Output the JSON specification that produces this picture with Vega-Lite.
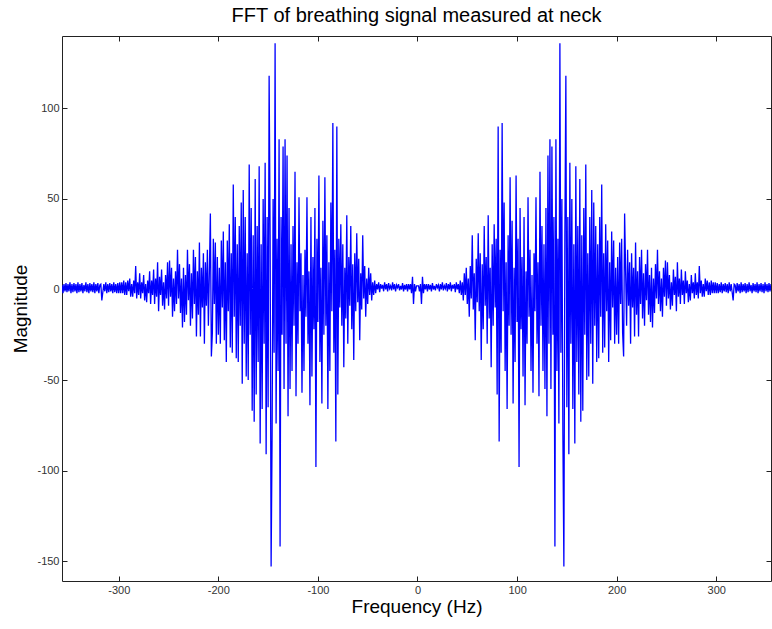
{
"$schema": "https://vega.github.io/schema/vega-lite/v6.json",
"width": 709,
"height": 545,
"autosize": {"type": "none"},
"padding": {"left": 62, "top": 36, "right": 1, "bottom": 48},
"background": "white",
"config": {"view": {"stroke": null}, "font": "Liberation Sans"},
"title": {"text": "FFT of breathing signal measured at neck", "fontSize": 20, "fontWeight": "normal", "color": "#000000", "font": "Liberation Sans", "anchor": "middle", "offset": 10},
"data": {"values": [
{"f":-357,"m":2.5},{"f":-356,"m":-2},{"f":-355,"m":3},{"f":-354,"m":-1},{"f":-353,"m":3.5},{"f":-352,"m":-1.5},{"f":-351,"m":3},{"f":-350,"m":-1},{"f":-349,"m":4},{"f":-348,"m":-2},
{"f":-347,"m":3},{"f":-346,"m":-1.5},{"f":-345,"m":3.5},{"f":-344,"m":-1},{"f":-343,"m":3},{"f":-342,"m":-2},{"f":-341,"m":4},
{"f":-340,"m":-1.5},{"f":-339,"m":3},{"f":-338,"m":-1},{"f":-337,"m":3.5},{"f":-336,"m":-2},{"f":-335,"m":2.5},{"f":-334,"m":-1},{"f":-333,"m":4},{"f":-332,"m":-1.5},{"f":-331,"m":3},
{"f":-330,"m":-2},{"f":-329,"m":3.5},{"f":-328,"m":-1},{"f":-327,"m":3},{"f":-326,"m":-1.5},{"f":-325,"m":4},{"f":-324,"m":-2},{"f":-323,"m":3},{"f":-322,"m":-1},{"f":-321,"m":3.5},
{"f":-320,"m":-2},{"f":-319,"m":2.5},{"f":-318,"m":3},{"f":-317,"m":-6},{"f":-316,"m":-1.5},{"f":-315,"m":3},{"f":-314,"m":-1},{"f":-313,"m":4},{"f":-312,"m":-2},{"f":-311,"m":3},
{"f":-310,"m":-1.5},{"f":-309,"m":3.5},{"f":-308,"m":-1},{"f":-307,"m":3},{"f":-306,"m":-2},{"f":-305,"m":4},{"f":-304,"m":-1.5},{"f":-303,"m":3},{"f":-302,"m":-2},{"f":-301,"m":3.5},
{"f":-300,"m":-2},{"f":-299,"m":4},{"f":-298,"m":-2},{"f":-297,"m":4},{"f":-296,"m":-2},{"f":-295,"m":5},{"f":-294,"m":-3},{"f":-293,"m":4},{"f":-292,"m":-3},{"f":-291,"m":5},
{"f":-290,"m":-1},{"f":-289,"m":6},{"f":-288,"m":-4},{"f":-287,"m":3},{"f":-286,"m":-4},{"f":-285,"m":5},{"f":-284,"m":-2},{"f":-283,"m":13},{"f":-282,"m":-5},{"f":-281,"m":4},
{"f":-280,"m":-3},{"f":-279,"m":9},{"f":-278,"m":-5},{"f":-277,"m":4},{"f":-276,"m":-2},{"f":-275,"m":8},{"f":-274,"m":-6},{"f":-273,"m":3},{"f":-272,"m":-7},{"f":-271,"m":5},
{"f":-270,"m":-2},{"f":-269,"m":10},{"f":-268,"m":-8},{"f":-267,"m":5},{"f":-266,"m":-3},{"f":-265,"m":11},{"f":-264,"m":-8},{"f":-263,"m":6},{"f":-262,"m":-4},{"f":-261,"m":15},
{"f":-260,"m":-12},{"f":-259,"m":7},{"f":-258,"m":-3},{"f":-257,"m":11},{"f":-256,"m":-9},{"f":-255,"m":4},{"f":-254,"m":-11},{"f":-253,"m":8},{"f":-252,"m":-5},{"f":-251,"m":15},
{"f":-250,"m":-9},{"f":-249,"m":16},{"f":-248,"m":-4},{"f":-247,"m":12},{"f":-246,"m":-15},{"f":-245,"m":6},{"f":-244,"m":-12},{"f":-243,"m":10},{"f":-242,"m":-8},{"f":-241,"m":22},
{"f":-240,"m":-5},{"f":-239,"m":14},{"f":-238,"m":-13},{"f":-237,"m":6},{"f":-236,"m":-21},{"f":-235,"m":12},{"f":-234,"m":-18},{"f":-233,"m":8},{"f":-232,"m":-14},{"f":-231,"m":22},
{"f":-230,"m":-6},{"f":-229,"m":14},{"f":-228,"m":-20},{"f":-227,"m":9},{"f":-226,"m":-16},{"f":-225,"m":22},{"f":-224,"m":-8},{"f":-223,"m":18},{"f":-222,"m":-26},{"f":-221,"m":10},
{"f":-220,"m":-14},{"f":-219,"m":26},{"f":-218,"m":-26},{"f":-217,"m":12},{"f":-216,"m":-10},{"f":-215,"m":20},{"f":-214,"m":-30},{"f":-213,"m":15},{"f":-212,"m":-9},{"f":-211,"m":22},
{"f":-210,"m":-20},{"f":-209,"m":10},{"f":-208,"m":42},{"f":-207,"m":-37},{"f":-206,"m":-24},{"f":-205,"m":28},{"f":-204,"m":-8},{"f":-203,"m":26},{"f":-202,"m":-30},{"f":-201,"m":18},
{"f":-200,"m":-25},{"f":-199,"m":12},{"f":-198,"m":-30},{"f":-197,"m":27},{"f":-196,"m":-10},{"f":-195,"m":32},{"f":-194,"m":-28},{"f":-193,"m":15},{"f":-192,"m":-40},{"f":-191,"m":27},
{"f":-190,"m":-12},{"f":-189,"m":36},{"f":-188,"m":-32},{"f":-187,"m":20},{"f":-186,"m":-35},{"f":-185,"m":58},{"f":-184,"m":-15},{"f":-183,"m":40},{"f":-182,"m":-38},{"f":-181,"m":25},
{"f":-180,"m":-40},{"f":-179,"m":35},{"f":-178,"m":-20},{"f":-177,"m":48},{"f":-176,"m":-52},{"f":-175,"m":55},{"f":-174,"m":-30},{"f":-173,"m":40},{"f":-172,"m":-48},{"f":-171,"m":20},
{"f":-170,"m":-50},{"f":-169,"m":69},{"f":-168,"m":-25},{"f":-167,"m":45},{"f":-166,"m":-67},{"f":-165,"m":30},{"f":-164,"m":-73},{"f":-163,"m":61},{"f":-162,"m":-58},{"f":-161,"m":35},
{"f":-160,"m":-40},{"f":-159,"m":68},{"f":-158,"m":-85},{"f":-157,"m":25},{"f":-156,"m":-66},{"f":-155,"m":50},{"f":-154,"m":-30},{"f":-153,"m":70},{"f":-152,"m":-91},{"f":-151,"m":40},
{"f":-150,"m":-65},{"f":-149,"m":118},{"f":-148,"m":30},{"f":-147,"m":-153},{"f":-146,"m":-80},{"f":-145,"m":50},{"f":-144,"m":-35},{"f":-143,"m":136},{"f":-142,"m":-74},{"f":-141,"m":28},
{"f":-140,"m":-45},{"f":-139,"m":83},{"f":-138,"m":-142},{"f":-137,"m":40},{"f":-136,"m":-25},{"f":-135,"m":79},{"f":-134,"m":-55},{"f":-133,"m":83},{"f":-132,"m":-30},{"f":-131,"m":74},
{"f":-130,"m":-70},{"f":-129,"m":45},{"f":-128,"m":-55},{"f":-127,"m":25},{"f":-126,"m":-45},{"f":-125,"m":35},{"f":-124,"m":-20},{"f":-123,"m":65},{"f":-122,"m":-59},{"f":-121,"m":15},
{"f":-120,"m":-30},{"f":-119,"m":51},{"f":-118,"m":-12},{"f":-117,"m":20},{"f":-116,"m":-57},{"f":-115,"m":8},{"f":-114,"m":-45},{"f":-113,"m":22},{"f":-112,"m":-15},{"f":-111,"m":51},
{"f":-110,"m":-30},{"f":-109,"m":10},{"f":-108,"m":-64},{"f":-107,"m":40},{"f":-106,"m":-48},{"f":-105,"m":18},{"f":-104,"m":-22},{"f":-103,"m":45},{"f":-102,"m":-98},{"f":-101,"m":28},
{"f":-100,"m":-18},{"f":-99,"m":63},{"f":-98,"m":-40},{"f":-97,"m":12},{"f":-96,"m":-63},{"f":-95,"m":38},{"f":-94,"m":-25},{"f":-93,"m":62},{"f":-92,"m":-20},{"f":-91,"m":30},
{"f":-90,"m":-66},{"f":-89,"m":15},{"f":-88,"m":-45},{"f":-87,"m":48},{"f":-86,"m":-12},{"f":-85,"m":92},{"f":-84,"m":-35},{"f":-83,"m":22},{"f":-82,"m":-84},{"f":-81,"m":90},
{"f":-80,"m":-58},{"f":-79,"m":28},{"f":-78,"m":-10},{"f":-77,"m":36},{"f":-76,"m":-20},{"f":-75,"m":25},{"f":-74,"m":-43},{"f":-73,"m":12},{"f":-72,"m":-16},{"f":-71,"m":41},
{"f":-70,"m":-30},{"f":-69,"m":18},{"f":-68,"m":-9},{"f":-67,"m":35},{"f":-66,"m":-22},{"f":-65,"m":14},{"f":-64,"m":-39},{"f":-63,"m":20},{"f":-62,"m":-12},{"f":-61,"m":31},
{"f":-60,"m":-7},{"f":-59,"m":17},{"f":-58,"m":-28},{"f":-57,"m":9},{"f":-56,"m":-11},{"f":-55,"m":30},{"f":-54,"m":-5},{"f":-53,"m":13},{"f":-52,"m":-15},{"f":-51,"m":6},
{"f":-50,"m":-8},{"f":-49,"m":12},{"f":-48,"m":-3},{"f":-47,"m":9},{"f":-46,"m":-6},{"f":-45,"m":4},{"f":-44,"m":-3},{"f":-43,"m":5},{"f":-42,"m":-2},{"f":-41,"m":3},
{"f":-40,"m":0},{"f":-39,"m":4},{"f":-38,"m":-1.5},{"f":-37,"m":3},{"f":-36,"m":0.5},{"f":-35,"m":2.5},{"f":-34,"m":-1},{"f":-33,"m":4},{"f":-32,"m":0},{"f":-31,"m":3},
{"f":-30,"m":-1},{"f":-29,"m":3.5},{"f":-28,"m":0.5},{"f":-27,"m":2},{"f":-26,"m":-0.5},{"f":-25,"m":4},{"f":-24,"m":0},{"f":-23,"m":3},{"f":-22,"m":-1},{"f":-21,"m":2.5},
{"f":-20,"m":1},{"f":-19,"m":3},{"f":-18,"m":-0.5},{"f":-17,"m":2},{"f":-16,"m":0},{"f":-15,"m":3.5},{"f":-14,"m":-1},{"f":-13,"m":2.5},{"f":-12,"m":0},{"f":-11,"m":3},
{"f":-10,"m":-1},{"f":-9,"m":3},{"f":-8,"m":0},{"f":-7,"m":3},{"f":-6,"m":-2},{"f":-5,"m":7},{"f":-4,"m":-8},{"f":-3,"m":3},{"f":-2,"m":-1},{"f":-1,"m":2},
{"f":0,"m":2},
{"f":1,"m":2},{"f":2,"m":-1},{"f":3,"m":3},{"f":4,"m":-8},{"f":5,"m":7},{"f":6,"m":-2},{"f":7,"m":3},{"f":8,"m":0},{"f":9,"m":3},{"f":10,"m":-1},
{"f":11,"m":3},{"f":12,"m":0},{"f":13,"m":2.5},{"f":14,"m":-1},{"f":15,"m":3.5},{"f":16,"m":0},{"f":17,"m":2},{"f":18,"m":-0.5},{"f":19,"m":3},{"f":20,"m":1},
{"f":21,"m":2.5},{"f":22,"m":-1},{"f":23,"m":3},{"f":24,"m":0},{"f":25,"m":4},{"f":26,"m":-0.5},{"f":27,"m":2},{"f":28,"m":0.5},{"f":29,"m":3.5},{"f":30,"m":-1},
{"f":31,"m":3},{"f":32,"m":0},{"f":33,"m":4},{"f":34,"m":-1},{"f":35,"m":2.5},{"f":36,"m":0.5},{"f":37,"m":3},{"f":38,"m":-1.5},{"f":39,"m":4},{"f":40,"m":0},
{"f":41,"m":3},{"f":42,"m":-2},{"f":43,"m":5},{"f":44,"m":-3},{"f":45,"m":4},{"f":46,"m":-6},{"f":47,"m":9},{"f":48,"m":-3},{"f":49,"m":12},{"f":50,"m":-8},
{"f":51,"m":6},{"f":52,"m":-15},{"f":53,"m":13},{"f":54,"m":-5},{"f":55,"m":30},{"f":56,"m":-11},{"f":57,"m":9},{"f":58,"m":-28},{"f":59,"m":17},{"f":60,"m":-7},
{"f":61,"m":31},{"f":62,"m":-12},{"f":63,"m":20},{"f":64,"m":-39},{"f":65,"m":14},{"f":66,"m":-22},{"f":67,"m":35},{"f":68,"m":-9},{"f":69,"m":18},{"f":70,"m":-30},
{"f":71,"m":41},{"f":72,"m":-16},{"f":73,"m":12},{"f":74,"m":-43},{"f":75,"m":25},{"f":76,"m":-20},{"f":77,"m":36},{"f":78,"m":-10},{"f":79,"m":28},{"f":80,"m":-58},
{"f":81,"m":90},{"f":82,"m":-84},{"f":83,"m":22},{"f":84,"m":-35},{"f":85,"m":92},{"f":86,"m":-12},{"f":87,"m":48},{"f":88,"m":-45},{"f":89,"m":15},{"f":90,"m":-66},
{"f":91,"m":30},{"f":92,"m":-20},{"f":93,"m":62},{"f":94,"m":-25},{"f":95,"m":38},{"f":96,"m":-63},{"f":97,"m":12},{"f":98,"m":-40},{"f":99,"m":63},{"f":100,"m":-18},
{"f":101,"m":28},{"f":102,"m":-98},{"f":103,"m":45},{"f":104,"m":-22},{"f":105,"m":18},{"f":106,"m":-48},{"f":107,"m":40},{"f":108,"m":-64},{"f":109,"m":10},{"f":110,"m":-30},
{"f":111,"m":51},{"f":112,"m":-15},{"f":113,"m":22},{"f":114,"m":-45},{"f":115,"m":8},{"f":116,"m":-57},{"f":117,"m":20},{"f":118,"m":-12},{"f":119,"m":51},{"f":120,"m":-30},
{"f":121,"m":15},{"f":122,"m":-59},{"f":123,"m":65},{"f":124,"m":-20},{"f":125,"m":35},{"f":126,"m":-45},{"f":127,"m":25},{"f":128,"m":-55},{"f":129,"m":45},{"f":130,"m":-70},
{"f":131,"m":74},{"f":132,"m":-30},{"f":133,"m":83},{"f":134,"m":-55},{"f":135,"m":79},{"f":136,"m":-25},{"f":137,"m":40},{"f":138,"m":-142},{"f":139,"m":83},{"f":140,"m":-45},
{"f":141,"m":28},{"f":142,"m":-74},{"f":143,"m":136},{"f":144,"m":-35},{"f":145,"m":50},{"f":146,"m":-80},{"f":147,"m":-153},{"f":148,"m":30},{"f":149,"m":118},{"f":150,"m":-65},
{"f":151,"m":40},{"f":152,"m":-91},{"f":153,"m":70},{"f":154,"m":-30},{"f":155,"m":50},{"f":156,"m":-66},{"f":157,"m":25},{"f":158,"m":-85},{"f":159,"m":68},{"f":160,"m":-40},
{"f":161,"m":35},{"f":162,"m":-58},{"f":163,"m":61},{"f":164,"m":-73},{"f":165,"m":30},{"f":166,"m":-67},{"f":167,"m":45},{"f":168,"m":-25},{"f":169,"m":69},{"f":170,"m":-50},
{"f":171,"m":20},{"f":172,"m":-48},{"f":173,"m":40},{"f":174,"m":-30},{"f":175,"m":55},{"f":176,"m":-52},{"f":177,"m":48},{"f":178,"m":-20},{"f":179,"m":35},{"f":180,"m":-40},
{"f":181,"m":25},{"f":182,"m":-38},{"f":183,"m":40},{"f":184,"m":-15},{"f":185,"m":58},{"f":186,"m":-35},{"f":187,"m":20},{"f":188,"m":-32},{"f":189,"m":36},{"f":190,"m":-12},
{"f":191,"m":27},{"f":192,"m":-40},{"f":193,"m":15},{"f":194,"m":-28},{"f":195,"m":32},{"f":196,"m":-10},{"f":197,"m":27},{"f":198,"m":-30},{"f":199,"m":12},{"f":200,"m":-25},
{"f":201,"m":18},{"f":202,"m":-30},{"f":203,"m":26},{"f":204,"m":-8},{"f":205,"m":28},{"f":206,"m":-24},{"f":207,"m":-37},{"f":208,"m":42},{"f":209,"m":10},{"f":210,"m":-20},
{"f":211,"m":22},{"f":212,"m":-9},{"f":213,"m":15},{"f":214,"m":-30},{"f":215,"m":20},{"f":216,"m":-10},{"f":217,"m":12},{"f":218,"m":-26},{"f":219,"m":26},{"f":220,"m":-14},
{"f":221,"m":10},{"f":222,"m":-26},{"f":223,"m":18},{"f":224,"m":-8},{"f":225,"m":22},{"f":226,"m":-16},{"f":227,"m":9},{"f":228,"m":-20},{"f":229,"m":14},{"f":230,"m":-6},
{"f":231,"m":22},{"f":232,"m":-14},{"f":233,"m":8},{"f":234,"m":-18},{"f":235,"m":12},{"f":236,"m":-21},{"f":237,"m":6},{"f":238,"m":-13},{"f":239,"m":14},{"f":240,"m":-5},
{"f":241,"m":22},{"f":242,"m":-8},{"f":243,"m":10},{"f":244,"m":-12},{"f":245,"m":6},{"f":246,"m":-15},{"f":247,"m":12},{"f":248,"m":-4},{"f":249,"m":16},{"f":250,"m":-9},
{"f":251,"m":15},{"f":252,"m":-5},{"f":253,"m":8},{"f":254,"m":-11},{"f":255,"m":4},{"f":256,"m":-9},{"f":257,"m":11},{"f":258,"m":-3},{"f":259,"m":7},{"f":260,"m":-12},
{"f":261,"m":15},{"f":262,"m":-4},{"f":263,"m":6},{"f":264,"m":-8},{"f":265,"m":11},{"f":266,"m":-3},{"f":267,"m":5},{"f":268,"m":-8},{"f":269,"m":10},{"f":270,"m":-2},
{"f":271,"m":5},{"f":272,"m":-7},{"f":273,"m":3},{"f":274,"m":-6},{"f":275,"m":8},{"f":276,"m":-2},{"f":277,"m":4},{"f":278,"m":-5},{"f":279,"m":9},{"f":280,"m":-3},
{"f":281,"m":4},{"f":282,"m":-5},{"f":283,"m":13},{"f":284,"m":-2},{"f":285,"m":5},{"f":286,"m":-4},{"f":287,"m":3},{"f":288,"m":-4},{"f":289,"m":6},{"f":290,"m":-1},
{"f":291,"m":5},{"f":292,"m":-3},{"f":293,"m":4},{"f":294,"m":-3},{"f":295,"m":5},{"f":296,"m":-2},{"f":297,"m":4},{"f":298,"m":-2},{"f":299,"m":4},{"f":300,"m":-2},
{"f":301,"m":3.5},{"f":302,"m":-2},{"f":303,"m":3},{"f":304,"m":-1.5},{"f":305,"m":4},{"f":306,"m":-2},{"f":307,"m":3},{"f":308,"m":-1},{"f":309,"m":3.5},{"f":310,"m":-1.5},
{"f":311,"m":3},{"f":312,"m":-2},{"f":313,"m":4},{"f":314,"m":-1},{"f":315,"m":3},{"f":316,"m":-1.5},{"f":317,"m":-6},{"f":318,"m":3},{"f":319,"m":2.5},{"f":320,"m":-2},
{"f":321,"m":3.5},{"f":322,"m":-1},{"f":323,"m":3},{"f":324,"m":-2},{"f":325,"m":4},{"f":326,"m":-1.5},{"f":327,"m":3},{"f":328,"m":-1},{"f":329,"m":3.5},{"f":330,"m":-2},
{"f":331,"m":3},{"f":332,"m":-1.5},{"f":333,"m":4},{"f":334,"m":-1},{"f":335,"m":2.5},{"f":336,"m":-2},{"f":337,"m":3.5},{"f":338,"m":-1},{"f":339,"m":3},{"f":340,"m":-1.5},
{"f":341,"m":4},{"f":342,"m":-2},{"f":343,"m":3},{"f":344,"m":-1},{"f":345,"m":3.5},{"f":346,"m":-1.5},{"f":347,"m":3},{"f":348,"m":-2},{"f":349,"m":4},{"f":350,"m":-1},
{"f":351,"m":3},{"f":352,"m":-1.5},{"f":353,"m":3.5},{"f":354,"m":-1},{"f":355,"m":3}
]},
"layer": [
{
"mark": {"type": "line", "color": "#0000ff", "strokeWidth": 1.3, "clip": true},
"encoding": {
"x": {"field": "f", "type": "quantitative", "scale": {"domain": [-357, 355], "nice": false, "zero": false},
 "axis": {"orient": "bottom", "values": [-300, -200, -100, 0, 100, 200, 300], "labelExpr": "'' + datum.value", "grid": false, "domainColor": "#222222", "tickColor": "#222222", "tickSize": -5, "labelPadding": 8, "labelFontSize": 11, "labelColor": "#333333", "labelFont": "Liberation Sans", "title": "Frequency (Hz)", "titleFontSize": 19, "titleFontWeight": "normal", "titleColor": "#000000", "titleFont": "Liberation Sans", "titlePadding": 2}},
"y": {"field": "m", "type": "quantitative", "scale": {"domain": [-161, 140], "nice": false, "zero": false},
 "axis": {"orient": "left", "values": [-150, -100, -50, 0, 50, 100], "labelExpr": "'' + datum.value", "grid": false, "domainColor": "#222222", "tickColor": "#222222", "tickSize": -5, "labelPadding": 8, "labelFontSize": 11, "labelColor": "#333333", "labelFont": "Liberation Sans", "title": "Magnitude", "titleFontSize": 19, "titleFontWeight": "normal", "titleColor": "#000000", "titleFont": "Liberation Sans", "titlePadding": 6}}
}
},
{
"mark": {"type": "point", "opacity": 0, "clip": true},
"encoding": {
"x": {"field": "f", "type": "quantitative", "axis": {"orient": "top", "values": [-300, -200, -100, 0, 100, 200, 300], "labels": false, "title": null, "grid": false, "domainColor": "#222222", "tickColor": "#222222", "tickSize": -5}},
"y": {"field": "m", "type": "quantitative", "axis": {"orient": "right", "values": [-150, -100, -50, 0, 50, 100], "labels": false, "title": null, "grid": false, "domainColor": "#222222", "tickColor": "#222222", "tickSize": -5}}
}
}
],
"resolve": {"axis": {"x": "independent", "y": "independent"}}
}
